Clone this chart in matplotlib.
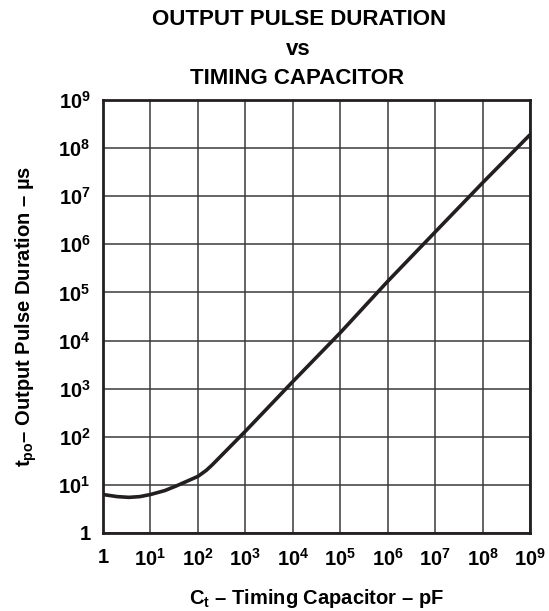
import matplotlib
matplotlib.use("Agg")
import matplotlib.pyplot as plt

plt.rcParams['font.family'] = ['Liberation Sans', 'DejaVu Sans']
plt.rcParams['font.weight'] = 'bold'
plt.rcParams['mathtext.fontset'] = 'custom'
plt.rcParams['mathtext.rm'] = 'Liberation Sans:bold'
plt.rcParams['mathtext.bf'] = 'Liberation Sans:bold'
plt.rcParams['mathtext.it'] = 'Liberation Sans:bold'

# Curve (pF -> us)
cap_pf = [1, 2, 3.5, 6, 10, 20, 35, 60, 100, 150, 200, 1e3, 1e4, 1e5, 1e6, 1e7, 1e8, 1e9]
pulse_us = [6.3, 5.7, 5.5, 5.7, 6.3, 7.6, 9.5, 12, 15, 20, 26, 130, 1.4e3, 1.45e4,
            1.7e5, 1.8e6, 1.9e7, 1.9e8]

decades = list(range(0, 10))
tick_labels = ['1'] + [r'$\mathregular{10^{%d}}$' % d for d in decades[1:]]

fig = plt.figure(figsize=(5.49, 6.11), dpi=100)
ax = fig.add_axes([0.1876, 0.1277, 0.7778, 0.7086])

ax.plot(cap_pf, pulse_us, color='#231f20', linewidth=2.6, solid_capstyle='butt')

ax.set_xscale('log')
ax.set_yscale('log')
ax.set_xlim(1, 1e9)
ax.set_ylim(1, 1e9)

ticks = [10.0 ** d for d in decades]
ax.set_xticks(ticks)
ax.set_yticks(ticks)
ax.set_xticklabels(tick_labels)
ax.set_yticklabels(tick_labels)
ax.minorticks_off()
ax.tick_params(length=0, labelsize=14.5)
ax.tick_params(axis='x', pad=11)
ax.tick_params(axis='y', pad=9)
for lbl in ax.get_xticklabels() + ax.get_yticklabels():
    lbl.set_fontweight('bold')

ax.grid(True, color='#3a3a3a', linewidth=1.1)
for s in ax.spines.values():
    s.set_linewidth(2)
    s.set_color('#231f20')

ax.set_xlabel(r'C$_\mathregular{t}$ – Timing Capacitor – pF', fontsize=14.5, fontweight='bold', labelpad=12)
ax.set_ylabel(r't$_\mathregular{po}$– Output Pulse Duration – µs', fontsize=14.5, fontweight='bold', labelpad=14)

fig.text(0.545, 0.968, 'OUTPUT PULSE DURATION', ha='center', va='center', fontsize=16, fontweight='bold')
fig.text(0.543, 0.919, 'vs', ha='center', va='center', fontsize=16, fontweight='bold')
fig.text(0.542, 0.8715, 'TIMING CAPACITOR', ha='center', va='center', fontsize=16, fontweight='bold')

fig.savefig('out.png', dpi=100)
